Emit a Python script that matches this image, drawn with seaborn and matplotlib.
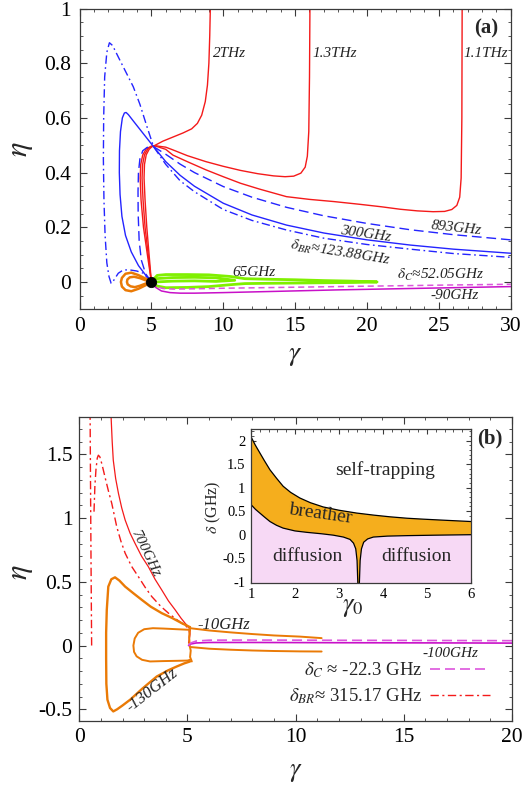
import numpy as np
import matplotlib
matplotlib.use("Agg")
import matplotlib.pyplot as plt
import seaborn as sns
from matplotlib.ticker import MultipleLocator, FuncFormatter

# ---------------- data: panel (a) ----------------
red2_g = [5.0, 4.72, 4.45, 4.28, 4.22, 4.26, 4.4, 4.65, 4.95, 5.15, 5.8, 6.5, 7.2, 7.8, 8.2, 8.5, 8.75, 8.9, 9.0, 9.06, 9.1]
red2_e = [0.0, 0.1, 0.2, 0.3, 0.38, 0.43, 0.465, 0.487, 0.495, 0.497, 0.515, 0.53, 0.545, 0.56, 0.58, 0.61, 0.66, 0.72, 0.8, 0.9, 1.0]
red13_g = [5.0, 4.78, 4.56, 4.42, 4.35, 4.39, 4.52, 4.76, 5.0, 5.3, 6.0, 6.5, 7.5, 8.8, 10.0, 11.2, 12.4, 13.5, 14.3, 14.9, 15.4, 15.7, 15.85, 15.95, 16.0, 16.03]
red13_e = [0.0, 0.1, 0.2, 0.3, 0.38, 0.43, 0.465, 0.487, 0.497, 0.498, 0.493, 0.483, 0.462, 0.44, 0.423, 0.408, 0.396, 0.388, 0.385, 0.387, 0.398, 0.42, 0.46, 0.55, 0.75, 1.0]
red11_g = [5.0, 4.84, 4.68, 4.56, 4.49, 4.52, 4.64, 4.84, 5.04, 5.3, 6.0, 6.5, 7.5, 8.8, 10.0, 11.2, 12.5, 14.4, 16.0, 17.7, 19.5, 21.0, 22.3, 23.5, 24.6, 25.4, 25.9, 26.25, 26.45, 26.55, 26.6, 26.62]
red11_e = [0.0, 0.1, 0.2, 0.3, 0.38, 0.43, 0.465, 0.485, 0.495, 0.497, 0.485, 0.464, 0.44, 0.41, 0.385, 0.361, 0.34, 0.312, 0.302, 0.294, 0.284, 0.275, 0.266, 0.26, 0.257, 0.258, 0.265, 0.28, 0.31, 0.38, 0.6, 1.0]

blue300_g = [5.0, 4.6, 4.1, 3.6, 3.2, 2.95, 2.82, 2.77, 2.78, 2.85, 2.98, 3.12, 3.24, 3.4, 3.8, 4.4, 5.15, 6.0, 7.0, 8.0, 10.0, 12.0, 14.4, 17.0, 20.0, 23.0, 26.0, 30.0]
blue300_e = [0.0, 0.025, 0.06, 0.11, 0.17, 0.24, 0.32, 0.4, 0.48, 0.55, 0.6, 0.618, 0.62, 0.612, 0.585, 0.545, 0.495, 0.44, 0.39, 0.35, 0.288, 0.245, 0.208, 0.179, 0.154, 0.135, 0.12, 0.105]
blue893_g = [5.0, 4.6, 4.3, 4.15, 4.08, 4.07, 4.1, 4.2, 4.4, 4.7, 5.15, 6.0, 7.0, 8.0, 10.0, 12.0, 14.4, 17.0, 20.0, 23.0, 26.0, 30.0]
blue893_e = [0.0, 0.03, 0.08, 0.15, 0.25, 0.33, 0.4, 0.45, 0.48, 0.492, 0.495, 0.467, 0.431, 0.40, 0.349, 0.31, 0.273, 0.242, 0.214, 0.191, 0.173, 0.154]
blueBR_g = [5.0, 4.44, 3.98, 3.5, 3.05, 2.7, 2.45, 2.28, 2.2, 2.05, 1.9, 1.78, 1.7, 1.66, 1.68, 1.75, 1.9, 2.08, 2.3, 2.82, 3.3, 3.74, 4.2, 4.68, 5.15, 6.0, 7.0, 8.0, 10.0, 12.0, 14.4, 17.0, 20.0, 23.0, 26.0, 30.0]
blueBR_e = [0.0, 0.032, 0.04, 0.044, 0.044, 0.032, 0.012, -0.003, -0.005, 0.02, 0.07, 0.17, 0.3, 0.45, 0.6, 0.75, 0.84, 0.875, 0.865, 0.81, 0.76, 0.714, 0.65, 0.57, 0.495, 0.43, 0.37, 0.33, 0.265, 0.225, 0.19, 0.16, 0.137, 0.12, 0.104, 0.09]

orange_out_g = [5.0, 4.6, 4.1, 3.6, 3.2, 2.95, 2.88, 2.95, 3.2, 3.6, 4.1, 4.6, 5.0]
orange_out_e = [0.0, 0.012, 0.025, 0.034, 0.03, 0.015, 0.0, -0.017, -0.03, -0.034, -0.025, -0.012, 0.0]
orange_in_g = [5.0, 4.6, 4.2, 3.8, 3.5, 3.33, 3.3, 3.35, 3.55, 3.85, 4.2, 4.6, 5.0]
orange_in_e = [0.0, 0.006, 0.014, 0.019, 0.017, 0.009, 0.0, -0.009, -0.016, -0.019, -0.014, -0.006, 0.0]

green_g = [5.0, 5.4, 6.0, 7.5, 9.0, 10.5, 11.5, 13.0, 15.0, 17.0, 19.0, 20.7, 19.0, 17.0, 15.0, 13.0, 11.5, 10.5, 9.0, 7.5, 6.0, 5.4, 5.0]
green_e = [0.0, 0.024, 0.027, 0.027, 0.026, 0.02, 0.012, 0.01, 0.008, 0.005, 0.003, 0.0, -0.002, -0.003, -0.004, -0.005, -0.006, -0.01, -0.017, -0.02, -0.021, -0.015, 0.0]
green2_g = [5.3, 6.5, 8.0, 9.5, 10.8, 9.5, 8.0, 6.5, 5.3]
green2_e = [0.012, 0.016, 0.017, 0.015, 0.006, 0.002, 0.004, 0.003, 0.0]

magC_g = [5.0, 5.3, 5.8, 6.5, 8, 10, 14, 18, 22, 26, 30]
magC_e = [0.0, -0.016, -0.024, -0.026, -0.025, -0.023, -0.02, -0.017, -0.014, -0.011, -0.0085]
mag90_g = [5.0, 5.3, 5.7, 6.3, 7, 8, 10, 14, 18, 22, 26, 30]
mag90_e = [0.0, -0.02, -0.033, -0.039, -0.041, -0.041, -0.039, -0.034, -0.029, -0.025, -0.021, -0.017]

dot_g = [5.0]
dot_e = [0.0]

# ---------------- data: panel (b) ----------------
r700_g = [1.47, 1.52, 1.57, 1.68, 1.81, 1.96, 2.12, 2.35, 2.58, 2.88, 3.19, 3.5, 3.81, 4.12, 4.43, 4.7, 4.89, 5.05, 5.12, 5.1, 5.05]
r700_e = [1.79, 1.6, 1.454, 1.31, 1.193, 1.08, 0.984, 0.88, 0.80, 0.70, 0.619, 0.52, 0.436, 0.35, 0.28, 0.215, 0.175, 0.145, 0.12, 0.07, 0.02]
rBR1_g = [0.57, 0.555, 0.54, 0.525, 0.51, 0.5]
rBR1_e = [0.0, 0.35, 0.7, 1.1, 1.5, 1.79]
rBR2_g = [0.68, 0.72, 0.77, 0.83, 0.88, 0.95, 1.05, 1.19, 1.35, 1.5, 1.62, 1.73, 1.92, 2.12, 2.42, 2.73, 3.05, 3.35, 3.75, 4.12, 4.45, 4.74, 5.05, 5.1, 5.07]
rBR2_e = [1.05, 1.25, 1.38, 1.47, 1.493, 1.48, 1.42, 1.32, 1.21, 1.115, 1.02, 0.932, 0.82, 0.724, 0.62, 0.54, 0.455, 0.384, 0.31, 0.254, 0.21, 0.175, 0.136, 0.09, 0.03]

obig_g = [5.12, 4.74, 4.3, 3.81, 3.3, 2.89, 2.5, 2.12, 1.85, 1.65, 1.48, 1.34, 1.27, 1.24, 1.24, 1.25, 1.3, 1.42, 1.57, 1.75, 2.0, 2.35, 2.9, 3.58, 4.1, 4.51, 4.85, 5.12]
obig_e = [0.144, 0.175, 0.215, 0.254, 0.305, 0.358, 0.41, 0.462, 0.51, 0.535, 0.52, 0.462, 0.28, 0.1, -0.1, -0.3, -0.425, -0.49, -0.517, -0.5, -0.47, -0.425, -0.34, -0.243, -0.195, -0.164, -0.14, -0.125]
oin_g = [5.12, 4.5, 3.9, 3.4, 3.0, 2.72, 2.56, 2.5, 2.53, 2.65, 2.9, 3.27, 3.9, 4.5, 5.0, 5.12]
oin_e = [0.123, 0.128, 0.133, 0.136, 0.128, 0.1, 0.055, 0.0, -0.05, -0.085, -0.112, -0.125, -0.122, -0.12, -0.118, -0.112]
ocon_g = [5.12, 5.08, 5.1, 5.15, 5.12, 5.2]
ocon_e = [0.144, 0.07, 0.0, -0.04, -0.09, -0.125]
otop_g = [5.12, 6.0, 7.0, 8.0, 9.0, 10.2, 11.2]
otop_e = [0.136, 0.118, 0.103, 0.09, 0.079, 0.07, 0.058]
olow_g = [5.15, 6.0, 7.0, 8.0, 9.0, 10.2, 11.2]
olow_e = [-0.012, -0.025, -0.033, -0.039, -0.043, -0.046, -0.047]

mCb_g = [5.05, 5.15, 5.4, 6, 8, 10, 12, 15, 18, 20]
mCb_e = [0.0, 0.02, 0.035, 0.042, 0.043, 0.042, 0.041, 0.04, 0.039, 0.038]
m100_g = [5.05, 5.15, 5.4, 6, 8, 10, 12, 15, 18, 20]
m100_e = [0.0, 0.012, 0.02, 0.024, 0.024, 0.023, 0.022, 0.021, 0.02, 0.019]

# ---------------- data: inset ----------------
up_g = [1.0, 1.1, 1.2, 1.3, 1.43, 1.58, 1.73, 1.9, 2.11, 2.35, 2.64, 3.0, 3.4, 3.8, 4.16, 4.55, 4.92, 5.45, 6.0]
up_d = [2.08, 1.9, 1.74, 1.58, 1.38, 1.2, 1.03, 0.9, 0.78, 0.68, 0.59, 0.52, 0.46, 0.415, 0.38, 0.35, 0.33, 0.305, 0.28]
low_g = [1.0, 1.1, 1.2, 1.3, 1.43, 1.58, 1.73, 2.0, 2.27, 2.6, 2.87, 3.1, 3.25, 3.33, 3.38, 3.41, 3.43, 3.46, 3.48, 3.51, 3.56, 3.65, 3.78, 4.1, 4.54, 5.2, 6.0]
low_d = [0.64, 0.54, 0.46, 0.38, 0.28, 0.2, 0.14, 0.08, 0.05, 0.02, -0.01, -0.05, -0.1, -0.18, -0.3, -0.55, -1.1, -1.1, -0.55, -0.3, -0.16, -0.09, -0.05, -0.03, -0.02, -0.01, 0.0]

# ---------------- style ----------------
sns.set_theme(style="ticks")
plt.rcParams.update({
    "font.family": ["Liberation Serif", "DejaVu Serif"],
    "mathtext.fontset": "stix",
    "axes.unicode_minus": False,
    "axes.facecolor": "white",
    "figure.facecolor": "white",
})

RED = "#f41a1a"
BLUE = "#2424ff"
ORANGE = "#ea7a06"
GREEN = "#80f000"
MAG = "#c810c8"
MAG2 = "#dd55dd"

fig = plt.figure(figsize=(5.28, 7.87), dpi=100)
axA = fig.add_axes([0.1506, 0.6077, 0.8167, 0.3814])
axB = fig.add_axes([0.1502, 0.0842, 0.8195, 0.3855])
axI = fig.add_axes([0.4754, 0.2596, 0.4167, 0.1949])


def line(ax, g, e, color, lw=1.0, ls="-", **kw):
    sns.lineplot(x=g, y=e, sort=False, estimator=None, ax=ax, color=color,
                 linewidth=lw, linestyle=ls, **kw)


def fmt(v, p):
    if abs(v) < 1e-9:
        return "0"
    return f"{v:g}"


def frame(ax, size, major, minor, pad):
    for s in ax.spines.values():
        s.set_color("#3a3a3a")
        s.set_linewidth(0.9)
    ax.tick_params(which="both", direction="in", top=True, right=True,
                   colors="#3a3a3a", labelcolor="black", labelsize=size, pad=pad)
    ax.tick_params(which="major", length=major, width=0.8)
    ax.tick_params(which="minor", length=minor, width=0.6)
    ax.xaxis.set_major_formatter(FuncFormatter(fmt))
    ax.yaxis.set_major_formatter(FuncFormatter(fmt))


# ---------------- panel (a) ----------------
for g, e in [(red2_g, red2_e), (red13_g, red13_e), (red11_g, red11_e)]:
    line(axA, g, e, RED, 1.0)
line(axA, blue300_g, blue300_e, BLUE, 1.0)
line(axA, blue893_g, blue893_e, BLUE, 1.0, (0, (7, 3.5)))
line(axA, blueBR_g, blueBR_e, BLUE, 1.0, (0, (6, 2.5, 1.2, 2.5)))
line(axA, green_g, green_e, GREEN, 2.0)
line(axA, green2_g, green2_e, GREEN, 2.0)
line(axA, orange_out_g, orange_out_e, ORANGE, 1.8)
line(axA, orange_in_g, orange_in_e, ORANGE, 1.8)
line(axA, mag90_g, mag90_e, MAG, 1.1)
line(axA, magC_g, magC_e, MAG2, 1.1, (0, (4, 2.5)))
sns.scatterplot(x=dot_g, y=dot_e, ax=axA, color="black", s=55, zorder=5, edgecolor="black")

axA.set_xlim(0, 30)
axA.set_ylim(-0.098, 1.0)
axA.xaxis.set_major_locator(MultipleLocator(5))
axA.xaxis.set_minor_locator(MultipleLocator(1))
axA.yaxis.set_major_locator(MultipleLocator(0.2))
axA.yaxis.set_minor_locator(MultipleLocator(0.05))
frame(axA, 15.5, 5, 2.5, 6)
axA.set_xlabel(r"$\gamma$", fontsize=20)
axA.set_ylabel(r"$\eta$", fontsize=22, rotation=90)
axA.xaxis.set_label_coords(0.5, -0.155)
axA.xaxis.label.set_va("center")
axA.yaxis.set_label_coords(-0.138, 0.53)
axA.yaxis.label.set_va("center")

it = dict(style="italic", fontsize=11, color="#222")
axA.text(9.3, 0.835, "2THz", ha="left", va="center", **it)
axA.text(16.2, 0.835, "1.3THz", ha="left", va="center", **it)
axA.text(26.7, 0.835, "1.1THz", ha="left", va="center", **it)
axA.text(26.2, 0.196, "893GHz", ha="center", va="center", rotation=-6, **it)
axA.text(19.9, 0.176, "300GHz", ha="center", va="center", rotation=-8, **it)
axA.text(18.1, 0.105, r"$\delta_{BR}$≈123.88GHz", ha="center", va="center", rotation=-9, **it)
axA.text(12.1, 0.034, "65GHz", ha="center", va="center", **it)
axA.text(25.1, 0.027, r"$\delta_C$≈52.05GHz", ha="center", va="center", **it)
axA.text(26.1, -0.048, "-90GHz", ha="center", va="center", **it)
axA.text(0.944, 0.934, "(a)", transform=axA.transAxes, ha="center", va="center",
         fontsize=15, fontweight="bold")

# ---------------- panel (b) ----------------
line(axB, r700_g, r700_e, RED, 0.9)
line(axB, rBR1_g, rBR1_e, RED, 1.0, (0, (6, 2.5, 1.5, 2.5)))
line(axB, rBR2_g, rBR2_e, RED, 1.0, (0, (6, 2.5, 1.5, 2.5)), label=r"$\delta_{BR}$≈ 315.17 GHz")
line(axB, obig_g, obig_e, ORANGE, 1.7)
line(axB, oin_g, oin_e, ORANGE, 1.4)
line(axB, ocon_g, ocon_e, ORANGE, 1.4)
line(axB, otop_g, otop_e, ORANGE, 1.4)
line(axB, olow_g, olow_e, ORANGE, 1.4)
line(axB, m100_g, m100_e, MAG, 1.2)
line(axB, mCb_g, mCb_e, MAG2, 1.2, (0, (6, 3)), label=r"$\delta_C$ ≈ -22.3 GHz")

axB.set_xlim(0, 20)
axB.set_ylim(-0.59, 1.79)
axB.xaxis.set_major_locator(MultipleLocator(5))
axB.xaxis.set_minor_locator(MultipleLocator(1))
axB.yaxis.set_major_locator(MultipleLocator(0.5))
axB.yaxis.set_minor_locator(MultipleLocator(0.1))
frame(axB, 15.5, 5, 2.5, 5)
axB.set_xlabel(r"$\gamma$", fontsize=19)
axB.set_ylabel(r"$\eta$", fontsize=22, rotation=90)
axB.xaxis.set_label_coords(0.5, -0.172)
axB.xaxis.label.set_va("center")
axB.yaxis.set_label_coords(-0.137, 0.491)
axB.yaxis.label.set_va("center")

axB.text(3.04, 0.72, "700GHz", ha="center", va="center", rotation=-64, **it)
axB.text(6.67, 0.162, "-10GHz", ha="center", va="center", fontsize=12, style="italic", color="#222")
axB.text(3.35, -0.347, "-130GHz", ha="center", va="center", rotation=38, fontsize=12, style="italic", color="#222")
axB.text(17.16, -0.065, "-100GHz", ha="center", va="center", **it)
axB.text(0.949, 0.931, "(b)", transform=axB.transAxes, ha="center", va="center",
         fontsize=15, fontweight="bold")

h, l = axB.get_legend_handles_labels()
order = [l.index(r"$\delta_C$ ≈ -22.3 GHz"), l.index(r"$\delta_{BR}$≈ 315.17 GHz")]
axB.legend([h[i] for i in order], [l[i] for i in order], loc="lower right",
           bbox_to_anchor=(0.975, 0.01), frameon=False, markerfirst=False,
           fontsize=13.5, handlelength=3.2, handletextpad=0.4, labelspacing=0.35,
           borderaxespad=0.2)

# ---------------- inset ----------------
ymin_i, ymax_i = -1.02, 2.24
pink_x = low_g + [6.0, 1.0]
pink_y = low_d + [ymin_i - 0.1, ymin_i - 0.1]
axI.fill(pink_x, pink_y, color="#f7d9f5", lw=0, zorder=1)
orange_x = up_g + low_g[::-1]
orange_y = up_d + low_d[::-1]
axI.fill(orange_x, orange_y, color="#f5ae1d", lw=0, zorder=1)
line(axI, up_g, up_d, "black", 0.9)
line(axI, low_g, low_d, "black", 0.9)
axI.set_xlim(1, 6)
axI.set_ylim(ymin_i, ymax_i)
axI.xaxis.set_major_locator(MultipleLocator(1))
axI.xaxis.set_minor_locator(MultipleLocator(0.2))
axI.yaxis.set_major_locator(MultipleLocator(0.5))
axI.yaxis.set_minor_locator(MultipleLocator(0.1))
frame(axI, 10.5, 3.5, 1.8, 4)
for s in axI.spines.values():
    s.set_zorder(5)
axI.set_xlabel(r"$\gamma_0$", fontsize=19)
axI.set_ylabel(r"$\delta$ (GHz)", fontsize=11.5)
axI.xaxis.set_label_coords(0.464, -0.165)
axI.xaxis.label.set_va("center")
axI.yaxis.set_label_coords(-0.171, 0.495)
axI.yaxis.label.set_va("center")
axI.text(4.05, 1.38, "self-trapping", ha="center", va="center", fontsize=14)
axI.text(2.57, 0.43, "breather", ha="center", va="center", fontsize=14, rotation=-8)
axI.text(2.27, -0.46, "diffusion", ha="center", va="center", fontsize=14)
axI.text(4.75, -0.46, "diffusion", ha="center", va="center", fontsize=14)

fig.savefig("out.png", dpi=100)
